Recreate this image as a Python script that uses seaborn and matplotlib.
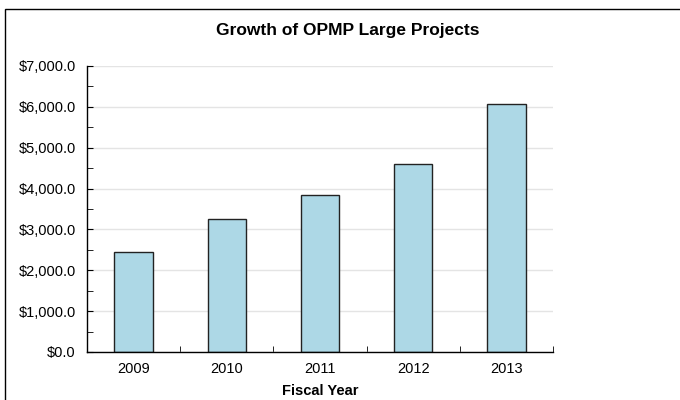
import matplotlib
matplotlib.use("Agg")
import matplotlib.pyplot as plt
import matplotlib.ticker as mticker
from matplotlib.patches import Rectangle
import seaborn as sns
import pandas as pd

years = ["2009", "2010", "2011", "2012", "2013"]
amounts = [2440, 3250, 3840, 4610, 6060]

sns.set_style("white")
plt.rcParams['font.family'] = ['Liberation Sans', 'DejaVu Sans']
plt.rcParams['text.color'] = 'black'
plt.rcParams['xtick.color'] = 'black'
plt.rcParams['ytick.color'] = 'black'
plt.rcParams['axes.labelcolor'] = 'black'

df = pd.DataFrame({"Fiscal Year": years, "Amount": amounts})

fig = plt.figure(figsize=(6.8, 4), dpi=100)
ax = fig.add_axes([87 / 680, 48 / 400, 466 / 680, 286 / 400])

sns.barplot(data=df, x="Fiscal Year", y="Amount", color="#add8e6",
            width=0.41, edgecolor="#222222", linewidth=1, saturation=1, ax=ax)

ax.set_xlim(-0.5, 4.5)
ax.set_ylim(0, 7000)
ax.yaxis.set_major_locator(mticker.MultipleLocator(1000))
ax.yaxis.set_minor_locator(mticker.MultipleLocator(500))
ax.yaxis.set_major_formatter(mticker.FuncFormatter(lambda v, p: f"${v:,.1f}"))
ax.xaxis.set_minor_locator(mticker.FixedLocator([0.5, 1.5, 2.5, 3.5, 4.5]))

ax.grid(axis="y", color="#e4e4e4", linewidth=1)
ax.set_axisbelow(True)
for s in ["top", "right"]:
    ax.spines[s].set_visible(False)
for s in ["left", "bottom"]:
    ax.spines[s].set_color("black")
    ax.spines[s].set_linewidth(1)

ax.tick_params(axis="y", which="both", direction="in", length=4, color="black",
               labelsize=10.5, pad=8, left=True)
ax.tick_params(axis="x", which="major", length=0, labelsize=10.5, pad=7)
ax.tick_params(axis="x", which="minor", direction="in", length=4, color="black", bottom=True)

ax.set_ylabel("")
ax.set_xlabel("Fiscal Year", fontsize=10.5, fontweight="bold", labelpad=6)
fig.text(348 / 680, 1 - 31 / 400, "Growth of OPMP Large Projects",
         ha="center", va="center", fontsize=12.5, fontweight="bold")

fig.patches.append(Rectangle((5 / 680, -0.1), 1.2, (391 / 400) + 0.1,
                             transform=fig.transFigure, fill=False,
                             edgecolor="black", linewidth=1))

fig.savefig("out.png", dpi=100)
